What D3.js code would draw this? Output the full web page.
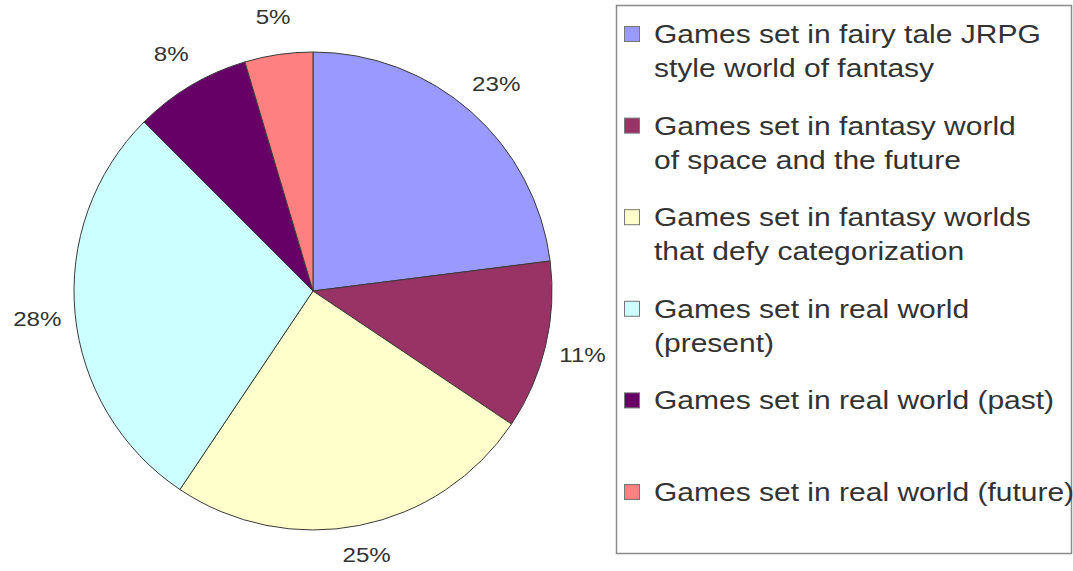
<!DOCTYPE html>
<html>
<head>
    <meta charset="utf-8">
    <title>Game worlds pie</title>
    <script src="https://cdnjs.cloudflare.com/ajax/libs/d3/7.8.5/d3.min.js"></script>
    <style>
        body { margin: 0; background: #fff; }
        text { font-family: "Liberation Sans", Arial, sans-serif; fill: #333; }
    </style>
</head>
<body>
    <script>
        var categories = [
            "Games set in fairy tale JRPG style world of fantasy",
            "Games set in fantasy world of space and the future",
            "Games set in fantasy worlds that defy categorization",
            "Games set in real world (present)",
            "Games set in real world (past)",
            "Games set in real world (future)"
        ];
        // legend text as it wraps in the picture
        var legendLines = [
            ["Games set in fairy tale JRPG", "style world of fantasy"],
            ["Games set in fantasy world", "of space and the future"],
            ["Games set in fantasy worlds", "that defy categorization"],
            ["Games set in real world", "(present)"],
            ["Games set in real world (past)"],
            ["Games set in real world (future)"]
        ];
        var values = [23.0, 11.4, 25.0, 28.1, 7.9, 4.6];
        var colors = ["#9999ff", "#993366", "#ffffcc", "#ccffff", "#660066", "#ff8080"];

        var w = 1073, h = 571;
        var cx = 313, cy = 291, r = 239, labelR = 277;

        var svg = d3.select("body")
            .append("svg")
            .attr("width", w)
            .attr("height", h);

        var data = categories.map(function(c, i) {
            return { name: c, value: values[i], color: colors[i], lines: legendLines[i] };
        });

        var pie = d3.pie().sort(null).value(function(d) { return d.value; });
        var arc = d3.arc().innerRadius(0).outerRadius(r);
        var labelArc = d3.arc().innerRadius(labelR).outerRadius(labelR);

        var g = svg.append("g")
            .attr("transform", "translate(" + cx + "," + cy + ")");

        var arcs = pie(data);

        g.selectAll("path.slice")
            .data(arcs)
            .enter().append("path")
            .attr("class", "slice")
            .attr("d", arc)
            .attr("fill", function(d) { return d.data.color; })
            .attr("stroke", "#3a3a3a")
            .attr("stroke-width", 1);

        // keep the bottom label inside the frame
        var maxY = h - cy - 17;

        g.selectAll("text.pct")
            .data(arcs)
            .enter().append("text")
            .attr("class", "pct")
            .attr("transform", function(d) {
                var p = labelArc.centroid(d);
                return "translate(" + p[0] + "," + Math.min(p[1], maxY) + ") scale(1.15,1)";
            })
            .attr("text-anchor", "middle")
            .attr("dy", "0.36em")
            .style("font-size", "21px")
            .text(function(d) { return Math.round(d.data.value) + "%"; });

        // legend
        var legend = svg.append("g");
        legend.append("rect")
            .attr("x", 616.5).attr("y", 5.5)
            .attr("width", 455).attr("height", 548)
            .attr("fill", "#fff")
            .attr("stroke", "#8a8a8a")
            .attr("stroke-width", 1.5);

        var yItem = d3.scalePoint()
            .domain(categories)
            .range([34, 492]);

        var items = legend.selectAll("g.item")
            .data(data)
            .enter().append("g")
            .attr("class", "item")
            .attr("transform", function(d) { return "translate(0," + yItem(d.name) + ")"; });

        items.append("rect")
            .attr("x", 624.5).attr("y", -7.5)
            .attr("width", 15).attr("height", 15)
            .attr("fill", function(d) { return d.color; })
            .attr("stroke", "#777")
            .attr("stroke-width", 1);

        items.selectAll("text")
            .data(function(d) { return d.lines; })
            .enter().append("text")
            .attr("transform", function(d, i) {
                return "translate(654," + (i * 34) + ") scale(1.2,1)";
            })
            .attr("dy", "0.36em")
            .style("font-size", "25px")
            .text(function(d) { return d; });
    </script>
</body>
</html>
